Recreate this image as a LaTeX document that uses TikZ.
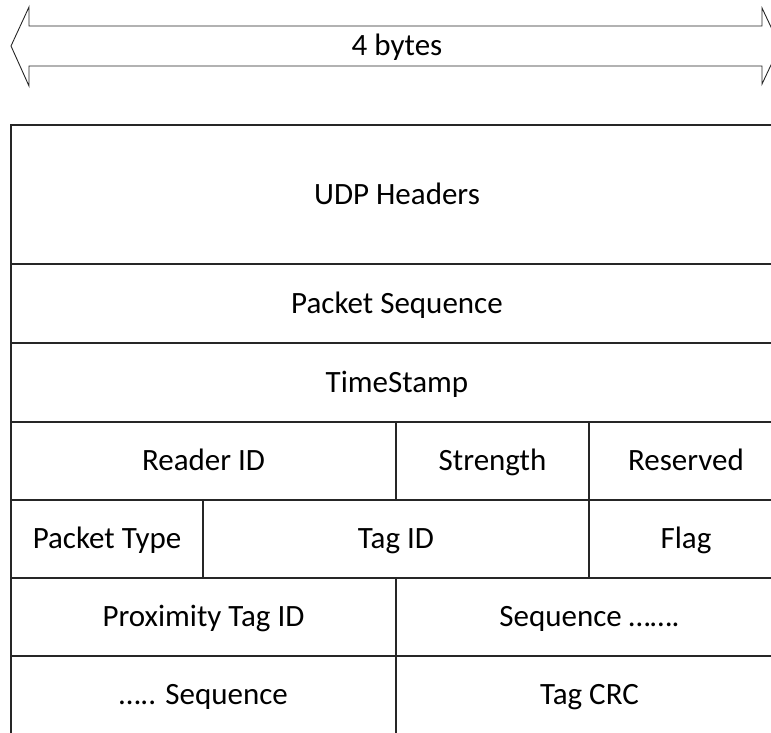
\documentclass[tikz,border=0pt]{standalone}
\usepackage{fontspec}
\setmainfont{Carlito}
\begin{document}
\begin{tikzpicture}[x=1pt, y=-1pt,
  rule/.style={draw=black!85, line width=1.1pt},
  label/.style={font=\fontsize{31}{36}\selectfont, inner sep=0pt, text=black,
    text height=19.5pt, text depth=0pt},
  field/.style={rule, label, rectangle, anchor=center}]
\useasboundingbox (0,0) rectangle (771,732);
\clip (0,0) rectangle (771,732);

% width indicator: double-headed block arrow
\draw[rule, line width=0.9pt, line join=miter]
  (11,46) -- (29,7) -- (29,26) -- (762,26) -- (762,8) -- (780,46)
  -- (762,84) -- (762,66) -- (29,66) -- (29,86) -- cycle;
\node[label] (span) at (397,46) {4 bytes};

% packet fields: \field{name}{x1}{y1}{x2}{y2}{text}
\newcommand{\field}[6]{%
  \pgfmathsetmacro{\fw}{#4-#2}\pgfmathsetmacro{\fh}{#5-#3}%
  \node[field, minimum width=\fw pt, minimum height=\fh pt]
    (#1) at ({(#2+#4)/2},{(#3+#5)/2}) {#6};}

\field{udp}{11}{125}{783}{264}{UDP Headers}
\field{pseq}{11}{264}{783}{343}{Packet Sequence}
\field{ts}{11}{343}{783}{422}{TimeStamp}
\field{reader}{11}{422}{396}{500}{Reader ID}
\field{strength}{396}{422}{589}{500}{Strength}
\field{reserved}{589}{422}{783}{500}{Reserved}
\field{ptype}{11}{500}{203}{578}{Packet Type}
\field{tagid}{203}{500}{589}{578}{Tag ID}
\field{flag}{589}{500}{783}{578}{Flag}
\field{prox}{11}{578}{396}{656}{Proximity Tag ID}
\field{seqa}{396}{578}{783}{656}{Sequence …….}
\field{seqb}{11}{656}{396}{734}{….. Sequence}
\field{crc}{396}{656}{783}{734}{Tag CRC}
\end{tikzpicture}
\end{document}
